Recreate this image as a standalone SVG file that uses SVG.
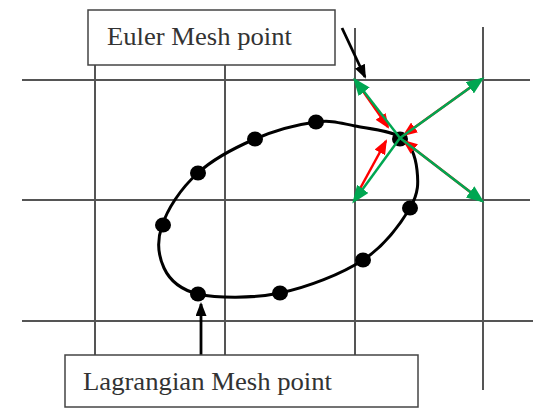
<svg xmlns="http://www.w3.org/2000/svg" width="533" height="409" viewBox="0 0 533 409">
<style>
.grid{stroke:#555;stroke-width:2;fill:none}
.box{fill:#fff;stroke:#444;stroke-width:1.5}
.lbl{font-family:"Liberation Serif","Times New Roman",serif;font-size:26px;fill:#333}
.dot{fill:#000}
.red{stroke:#f00;stroke-width:2.5;fill:none}
.grn{stroke:#00a651;stroke-width:2.5;fill:none}
.blk{stroke:#000;stroke-width:2.8;fill:none}
</style>
<defs>
<marker id="mR" markerUnits="userSpaceOnUse" markerWidth="16" markerHeight="12" refX="13" refY="6" orient="auto"><path d="M0,0 L15,6 L0,12 z" fill="#f00"/></marker>
<marker id="mG" markerUnits="userSpaceOnUse" markerWidth="18" markerHeight="14" refX="15" refY="7" orient="auto"><path d="M0,0 L18,7 L0,14 z" fill="#00a651"/></marker>
<marker id="mB" markerUnits="userSpaceOnUse" markerWidth="15" markerHeight="11" refX="12" refY="5.5" orient="auto"><path d="M0,0 L14,5.5 L0,11 z" fill="#000"/></marker>
</defs>
<g id="grid">
<line class="grid" x1="22" y1="80" x2="530" y2="80"/>
<line class="grid" x1="22" y1="200" x2="530" y2="200"/>
<line class="grid" x1="22" y1="321" x2="533" y2="321"/>
<line class="grid" x1="95" y1="65" x2="95" y2="355"/>
<line class="grid" x1="225" y1="65" x2="225" y2="355"/>
<line class="grid" x1="355" y1="28" x2="355" y2="355"/>
<line class="grid" x1="483" y1="27" x2="483" y2="390"/>
</g>
<g id="body">
<path d="M316,122 C332.7,119.8 340.7,123.3 355,126 C369.3,128.7 391.7,130.7 402,138 C412.3,145.3 415.7,158.3 417,170 C418.3,181.7 419,193 410,208 C401,223 384.7,245.8 363,260 C341.3,274.2 307.5,287.3 280,293 C252.5,298.7 217,298.2 198,294 C182,290 170,281 164,268 C158,255 157,240 162,226 C167,210 180,189 198,173 C213.3,158.7 235.3,147.5 255,139 C274.7,130.5 299.3,124.2 316,122 Z" fill="none" stroke="#000" stroke-width="3"/>
</g>
<g id="lagrangian-points">
<ellipse class="dot" cx="316" cy="122" rx="8" ry="7.5"/>
<ellipse class="dot" cx="255" cy="139" rx="8" ry="7.5"/>
<ellipse class="dot" cx="198" cy="173" rx="8" ry="7.5"/>
<ellipse class="dot" cx="163" cy="225" rx="8" ry="7.5"/>
<ellipse class="dot" cx="198" cy="294" rx="8" ry="7.5"/>
<ellipse class="dot" cx="280" cy="293" rx="8" ry="7.5"/>
<ellipse class="dot" cx="363" cy="260" rx="8" ry="7.5"/>
<ellipse class="dot" cx="410" cy="208" rx="8" ry="7.5"/>
<ellipse class="dot" cx="400" cy="139" rx="8" ry="7.5"/>
</g>
<g id="connectors">
<line class="red" x1="358" y1="84" x2="388" y2="127" marker-end="url(#mR)"/>
<line class="red" x1="356" y1="196" x2="386" y2="141" marker-end="url(#mR)"/>
<line class="red" x1="482" y1="79" x2="404" y2="135" marker-end="url(#mR)"/>
<line class="red" x1="482" y1="201" x2="404" y2="141" marker-end="url(#mR)"/>
<line class="grn" x1="400" y1="138" x2="355" y2="80" marker-end="url(#mG)"/>
<line class="grn" x1="400" y1="138" x2="482" y2="79" marker-end="url(#mG)"/>
<line class="grn" x1="400" y1="138" x2="354" y2="201" marker-end="url(#mG)"/>
<line class="grn" x1="400" y1="138" x2="482" y2="201" marker-end="url(#mG)"/>
<line class="blk" x1="342" y1="28" x2="365" y2="77" marker-end="url(#mB)"/>
<line class="blk" x1="201" y1="355" x2="201" y2="304" marker-end="url(#mB)"/>
</g>
<g id="euler-label">
<rect class="box" x="88" y="10" width="247" height="55"/>
<text class="lbl" x="107" y="45" textLength="185" lengthAdjust="spacingAndGlyphs">Euler Mesh point</text>
</g>
<g id="lagrangian-label">
<rect class="box" x="65" y="355" width="353" height="52"/>
<text class="lbl" x="83" y="390" textLength="249" lengthAdjust="spacingAndGlyphs">Lagrangian Mesh point</text>
</g>
</svg>
